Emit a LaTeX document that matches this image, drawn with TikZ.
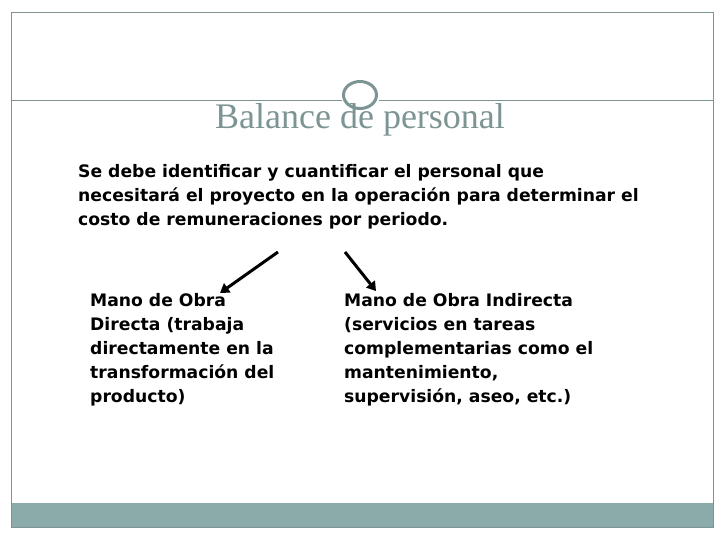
\documentclass[tikz,border=0pt]{standalone}
\usepackage{fontspec}
\setmainfont{Liberation Serif}
\newfontfamily\bodyf{DejaVu Sans}
\usetikzlibrary{arrows.meta}
\definecolor{teal}{RGB}{138,171,170}
\definecolor{tgray}{RGB}{125,148,148}
\begin{document}
\begin{tikzpicture}[x=1pt,y=-1pt,
  body/.style={anchor=north west,font=\bodyf\bfseries\fontsize{17.2}{24}\selectfont,inner sep=0,align=left},
  arr/.style={line width=3pt,-{Triangle[length=9pt,width=11pt]}}]
\useasboundingbox (0,0) rectangle (720,540);
\fill[teal] (11,503) rectangle (713,527);
\draw[tgray,line width=0.8pt] (11,12) rectangle (713,527);
\draw[tgray,line width=0.8pt] (11,100) -- (342,100) (379,100) -- (713,100);
\node[anchor=base,inner sep=0,text=tgray,font=\fontsize{36}{40}\selectfont] (title) at (360,129) {Balance de personal};
\draw[tgray,line width=3pt] (360,95) ellipse [x radius=16.5, y radius=13.5];
\node[body] (intro) at (78,164) {Se debe identificar y cuantificar el personal que\\necesitará el proyecto en la operación para determinar el\\costo de remuneraciones por periodo.};
\node[body] (left) at (90,293) {Mano de Obra\\Directa (trabaja\\directamente en la\\transformación del\\producto)};
\node[body] (right) at (344,293) {Mano de Obra Indirecta\\(servicios en tareas\\complementarias como el\\mantenimiento,\\supervisión, aseo, etc.)};
\coordinate (a1) at (278,252); \coordinate (a2) at (220,293);
\coordinate (b1) at (345,252); \coordinate (b2) at (376,291);
\draw[arr] (a1) -- (a2);
\draw[arr] (b1) -- (b2);
\end{tikzpicture}
\end{document}
